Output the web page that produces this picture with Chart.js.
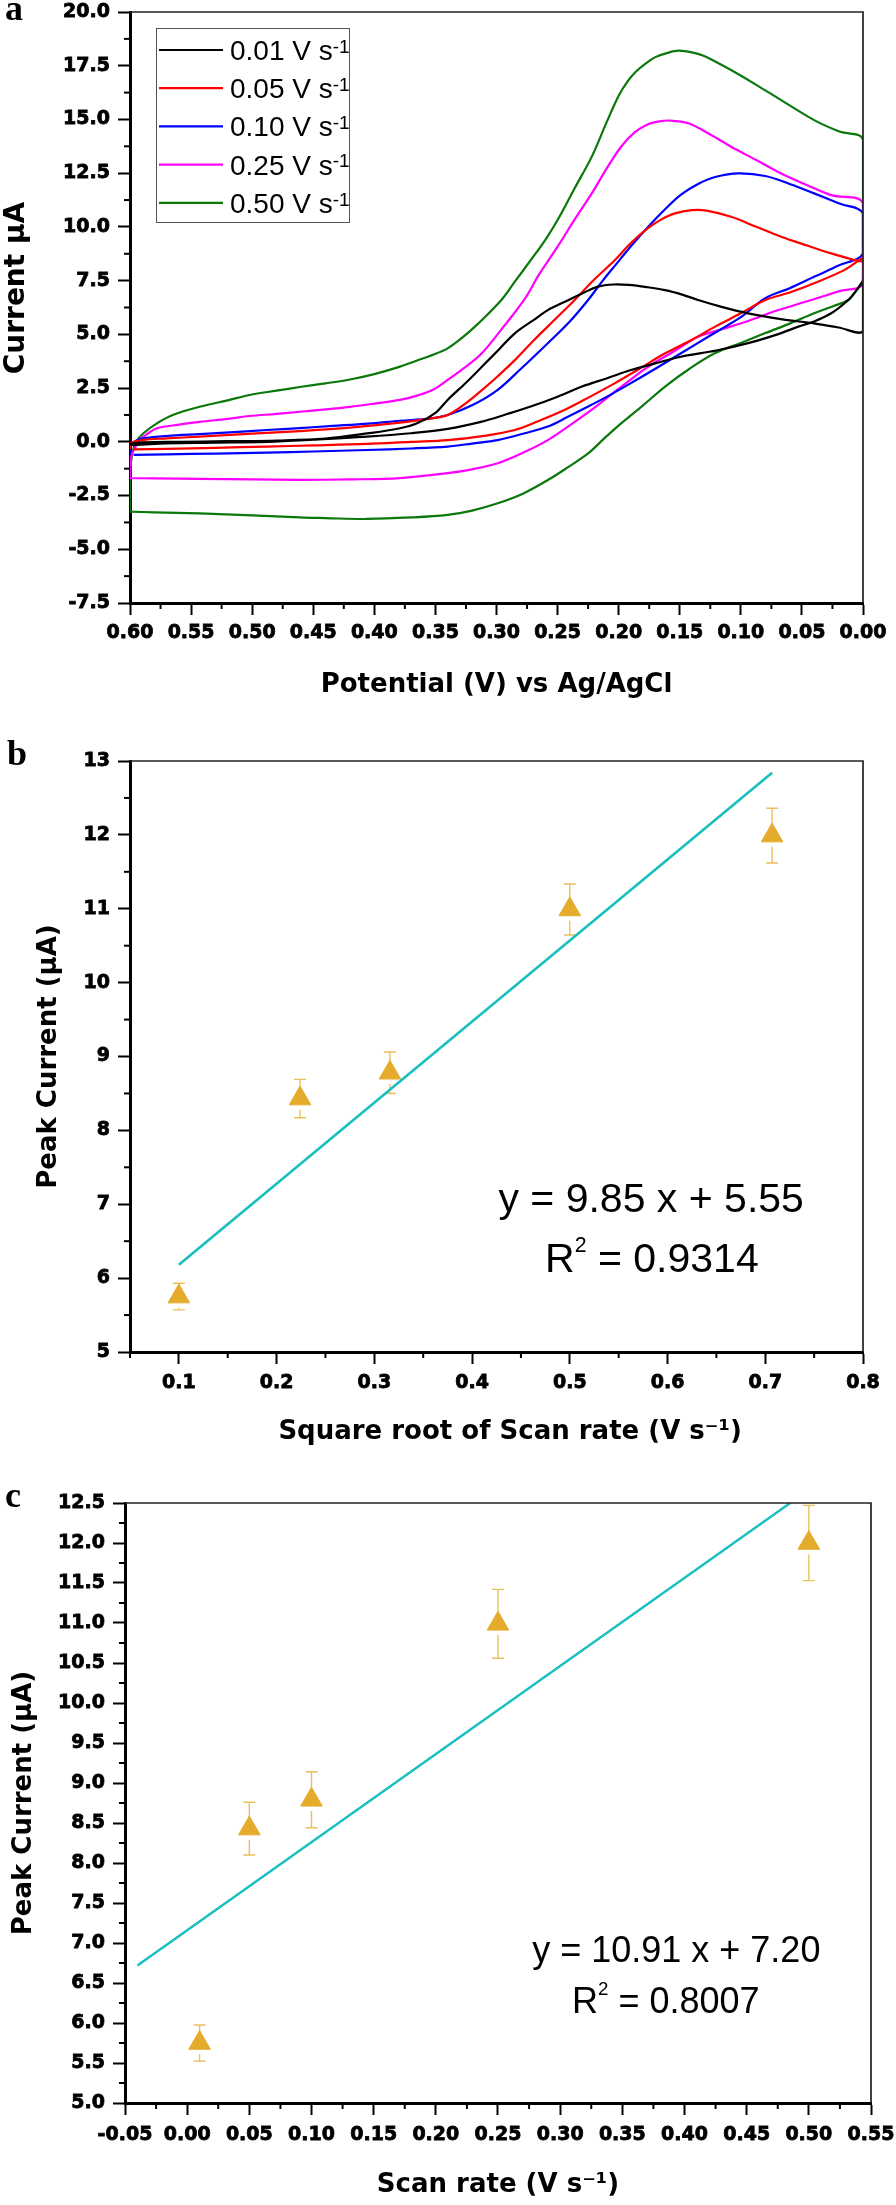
<!DOCTYPE html>
<html>
<head>
<meta charset="utf-8">
<title>CV scans and peak current vs scan rate</title>
<script src="https://cdn.jsdelivr.net/npm/chart.js@4.4.1/dist/chart.umd.min.js"></script>
<style>
  html, body { margin: 0; padding: 0; background: #fff; }
  body { position: relative; width: 896px; height: 2205px; overflow: hidden; }
  canvas { position: absolute; left: 0; }
</style>
</head>
<body>
<canvas id="cvChart" width="896" height="720" style="top:0"></canvas>
<canvas id="sqrtChart" width="896" height="740" style="top:720px"></canvas>
<canvas id="rateChart" width="896" height="745" style="top:1460px"></canvas>
<script>
/* ---- (a) cyclic voltammograms, one closed loop per scan rate ---- */
const scanRates = ['0.01', '0.05', '0.10', '0.25', '0.50'];
const cvColors = ['#000000', '#ff0000', '#0000ff', '#ff00ff', '#0b780b'];

const cv001Pot = [0.600, 0.590, 0.560, 0.520, 0.480, 0.440, 0.406, 0.380, 0.365, 0.350, 0.340, 0.325, 0.312, 0.298, 0.285, 0.270, 0.258, 0.244, 0.230, 0.217, 0.204, 0.192, 0.177, 0.162, 0.148, 0.135, 0.115, 0.094, 0.066, 0.040, 0.020, 0.000,
                  0.000, 0.006, 0.012, 0.026, 0.040, 0.053, 0.070, 0.094, 0.120, 0.149, 0.170, 0.190, 0.210, 0.230, 0.250, 0.272, 0.292, 0.312, 0.340, 0.370, 0.406, 0.450, 0.488, 0.530, 0.570, 0.597, 0.600];
const cv001Cur = [-0.10, -0.03, 0.00, 0.03, 0.06, 0.15, 0.39, 0.62, 0.86, 1.35, 1.95, 2.75, 3.49, 4.30, 5.05, 5.65, 6.13, 6.52, 6.90, 7.22, 7.32, 7.30, 7.20, 7.06, 6.85, 6.60, 6.27, 5.98, 5.70, 5.51, 5.32, 5.16,
                  7.40, 7.00, 6.60, 5.98, 5.60, 5.36, 5.00, 4.59, 4.25, 3.96, 3.65, 3.34, 2.95, 2.57, 2.10, 1.64, 1.28, 0.94, 0.60, 0.40, 0.24, 0.10, 0.00, -0.04, -0.07, -0.15, -0.12];

const cv005Pot = [0.600, 0.600, 0.590, 0.570, 0.543, 0.500, 0.461, 0.420, 0.379, 0.355, 0.340, 0.325, 0.310, 0.299, 0.285, 0.269, 0.252, 0.236, 0.220, 0.203, 0.190, 0.176, 0.165, 0.154, 0.140, 0.128, 0.108, 0.088, 0.067, 0.045, 0.026, 0.000,
                  0.000, 0.015, 0.040, 0.060, 0.080, 0.100, 0.121, 0.140, 0.162, 0.183, 0.203, 0.224, 0.244, 0.265, 0.285, 0.310, 0.340, 0.370, 0.406, 0.450, 0.488, 0.530, 0.570, 0.597];
const cv005Cur = [-0.35, -0.07, 0.08, 0.16, 0.24, 0.38, 0.50, 0.66, 0.89, 1.08, 1.25, 1.80, 2.50, 3.05, 3.80, 4.75, 5.70, 6.60, 7.55, 8.46, 9.25, 9.94, 10.35, 10.63, 10.78, 10.76, 10.47, 10.02, 9.54, 9.12, 8.77, 8.38,
                  8.55, 8.00, 7.38, 6.95, 6.60, 5.98, 5.36, 4.75, 4.12, 3.40, 2.73, 2.08, 1.49, 0.98, 0.55, 0.28, 0.08, 0.00, -0.10, -0.17, -0.22, -0.28, -0.33, -0.35];

const cv010Pot = [0.600, 0.600, 0.595, 0.589, 0.570, 0.543, 0.515, 0.488, 0.461, 0.434, 0.405, 0.379, 0.355, 0.340, 0.320, 0.299, 0.280, 0.258, 0.240, 0.225, 0.213, 0.203, 0.190, 0.176, 0.162, 0.149, 0.135, 0.121, 0.102, 0.080, 0.060, 0.040, 0.020, 0.000,
                  0.000, 0.020, 0.040, 0.060, 0.080, 0.100, 0.125, 0.149, 0.170, 0.190, 0.208, 0.225, 0.242, 0.258, 0.280, 0.299, 0.320, 0.340, 0.370, 0.406, 0.450, 0.488, 0.530, 0.570, 0.597];
const cv010Cur = [-0.61, -0.23, 0.05, 0.16, 0.27, 0.36, 0.45, 0.55, 0.64, 0.74, 0.85, 0.98, 1.08, 1.25, 1.70, 2.42, 3.40, 4.59, 5.60, 6.60, 7.50, 8.20, 9.10, 10.00, 10.82, 11.50, 12.00, 12.32, 12.49, 12.37, 12.00, 11.56, 11.10, 10.63,
                  8.77, 8.20, 7.68, 7.15, 6.68, 5.80, 4.95, 4.12, 3.40, 2.73, 2.15, 1.64, 1.15, 0.71, 0.35, 0.08, -0.08, -0.22, -0.31, -0.38, -0.45, -0.50, -0.55, -0.58, -0.61];

const cv025Pot = [0.600, 0.599, 0.592, 0.585, 0.578, 0.560, 0.543, 0.520, 0.502, 0.480, 0.461, 0.440, 0.420, 0.400, 0.379, 0.365, 0.352, 0.340, 0.325, 0.312, 0.295, 0.277, 0.265, 0.250, 0.236, 0.222, 0.210, 0.198, 0.187, 0.176, 0.168, 0.158, 0.143, 0.125, 0.108, 0.087, 0.067, 0.046, 0.026, 0.000,
                  0.000, 0.020, 0.045, 0.070, 0.094, 0.115, 0.135, 0.155, 0.176, 0.197, 0.217, 0.238, 0.258, 0.278, 0.299, 0.320, 0.340, 0.379, 0.420, 0.461, 0.500, 0.543, 0.580, 0.600];
const cv025Cur = [-1.69, -0.69, 0.08, 0.40, 0.63, 0.80, 0.93, 1.07, 1.20, 1.30, 1.40, 1.51, 1.63, 1.78, 1.95, 2.15, 2.42, 2.88, 3.50, 4.12, 5.30, 6.64, 7.80, 9.08, 10.35, 11.56, 12.70, 13.73, 14.40, 14.78, 14.90, 14.95, 14.82, 14.30, 13.73, 13.10, 12.49, 11.95, 11.48, 11.10,
                  7.38, 7.00, 6.55, 6.12, 5.62, 5.25, 4.89, 4.20, 3.49, 2.60, 1.71, 0.85, 0.08, -0.50, -1.00, -1.28, -1.46, -1.69, -1.75, -1.77, -1.75, -1.72, -1.70, -1.69];

const cv050Pot = [0.600, 0.600, 0.598, 0.595, 0.589, 0.578, 0.565, 0.543, 0.520, 0.502, 0.480, 0.461, 0.440, 0.420, 0.400, 0.379, 0.365, 0.352, 0.340, 0.328, 0.315, 0.296, 0.285, 0.272, 0.260, 0.250, 0.236, 0.222, 0.210, 0.200, 0.193, 0.186, 0.178, 0.170, 0.160, 0.151, 0.140, 0.130, 0.121, 0.108, 0.087, 0.067, 0.040, 0.020, 0.000,
                  0.000, 0.006, 0.012, 0.025, 0.040, 0.060, 0.080, 0.100, 0.121, 0.142, 0.162, 0.180, 0.198, 0.212, 0.225, 0.242, 0.258, 0.278, 0.299, 0.320, 0.340, 0.370, 0.406, 0.440, 0.461, 0.500, 0.543, 0.580, 0.600];
const cv050Cur = [-3.25, -1.50, -0.50, 0.00, 0.40, 0.86, 1.25, 1.63, 1.93, 2.18, 2.38, 2.55, 2.72, 2.90, 3.15, 3.50, 3.78, 4.05, 4.35, 4.85, 5.50, 6.60, 7.45, 8.45, 9.40, 10.32, 11.80, 13.27, 14.85, 16.10, 16.75, 17.22, 17.60, 17.90, 18.10, 18.20, 18.12, 17.95, 17.70, 17.30, 16.60, 15.90, 14.97, 14.45, 14.04,
                  7.60, 7.00, 6.60, 6.30, 5.98, 5.50, 5.06, 4.60, 4.13, 3.40, 2.57, 1.70, 0.86, 0.15, -0.54, -1.20, -1.78, -2.40, -2.86, -3.20, -3.40, -3.52, -3.59, -3.55, -3.52, -3.42, -3.33, -3.28, -3.25];

const cvXTicks = [0.00, 0.05, 0.10, 0.15, 0.20, 0.25, 0.30, 0.35, 0.40, 0.45, 0.50, 0.55, 0.60];
const cvYTicks = [-7.5, -5.0, -2.5, 0.0, 2.5, 5.0, 7.5, 10.0, 12.5, 15.0, 17.5, 20.0];

/* ---- (b) peak current vs square root of scan rate ---- */
const sqrtRate = [0.100, 0.224, 0.316, 0.500, 0.707];
const sqrtPeak = [5.75, 8.43, 8.78, 10.99, 11.99];
const sqrtErr = [0.18, 0.26, 0.28, 0.345, 0.37];
const sqrtFitX = [0.100, 0.707];
const sqrtFitY = [6.18, 12.84];
const sqrtXTicks = [0.1, 0.2, 0.3, 0.4, 0.5, 0.6, 0.7, 0.8];
const sqrtYTicks = [5, 6, 7, 8, 9, 10, 11, 12, 13];

/* ---- (c) peak current vs scan rate ---- */
const rate = [0.01, 0.05, 0.10, 0.25, 0.50];
const ratePeak = [5.75, 8.43, 8.79, 10.99, 12.00];
const rateErr = [0.225, 0.33, 0.35, 0.43, 0.47];
const rateFitX = [-0.040, 0.485];
const rateFitY = [6.72, 12.50];
const rateXTicks = [-0.05, 0.00, 0.05, 0.10, 0.15, 0.20, 0.25, 0.30, 0.35, 0.40, 0.45, 0.50, 0.55];
const rateYTicks = [5.0, 5.5, 6.0, 6.5, 7.0, 7.5, 8.0, 8.5, 9.0, 9.5, 10.0, 10.5, 11.0, 11.5, 12.0, 12.5];

const BOLD = "'DejaVu Sans', 'Verdana', sans-serif";
const SANS = "'Liberation Sans', Arial, sans-serif";
const pairs = (xs, ys) => xs.map((x, k) => ({ x, y: ys[k] }));

/* ---- text with superscript pieces: parts = [[text, isSup], ...] ---- */
function drawRich(ctx, parts, x, y, size, align, supScale, raise) {
    const widths = parts.map(([t, sup]) => {
        ctx.font = `${sup ? size * supScale : size}px ${SANS}`;
        return ctx.measureText(t).width;
    });
    const total = widths.reduce((a, b) => a + b, 0);
    let cx = align === 'center' ? x - total / 2 : x;
    ctx.textAlign = 'left';
    ctx.textBaseline = 'alphabetic';
    parts.forEach(([t, sup], i) => {
        ctx.font = `${sup ? size * supScale : size}px ${SANS}`;
        ctx.fillText(t, cx, sup ? y - size * raise : y);
        cx += widths[i];
    });
}

/* ---- frame (top/right), minor ticks, panel letter ---- */
const framePlugin = {
    id: 'frame',
    afterDraw(chart, args, opts) {
        const { ctx, chartArea: a } = chart;
        ctx.save();
        ctx.strokeStyle = '#222';
        ctx.lineWidth = 1.7;
        ctx.beginPath();
        ctx.moveTo(a.left, a.top);
        ctx.lineTo(a.right, a.top);
        ctx.lineTo(a.right, a.bottom);
        ctx.stroke();

        ctx.strokeStyle = '#000';
        ctx.lineWidth = 2;
        Object.entries(opts.minor || {}).forEach(([id, step]) => {
            const s = chart.scales[id];
            const k0 = Math.ceil(s.min / step - 1e-6), k1 = Math.floor(s.max / step + 1e-6);
            for (let k = k0; k <= k1; k++) {
                if (Math.abs(k % 2) !== 1) continue;
                const p = s.getPixelForValue(k * step);
                ctx.beginPath();
                if (s.isHorizontal()) { ctx.moveTo(p, a.bottom); ctx.lineTo(p, a.bottom + 6); }
                else { ctx.moveTo(a.left - 6, p); ctx.lineTo(a.left, p); }
                ctx.stroke();
            }
        });

        if (opts.letter) {
            ctx.fillStyle = '#000';
            ctx.font = "bold 36px 'Liberation Serif', 'Times New Roman', serif";
            ctx.textAlign = 'left';
            ctx.textBaseline = 'alphabetic';
            ctx.fillText(opts.letter.text, opts.letter.x, opts.letter.y);
        }
        ctx.restore();
    }
};

/* ---- error bars: whisker up to the cap, gap under the triangle ---- */
const errorBarPlugin = {
    id: 'errorBars',
    beforeDatasetsDraw(chart) {
        const { ctx } = chart;
        const ys = chart.scales.y;
        chart.data.datasets.forEach((ds, i) => {
            if (!ds.errors) return;
            const meta = chart.getDatasetMeta(i);
            ctx.save();
            ctx.strokeStyle = '#ebbf5e';
            ctx.lineWidth = 1.4;
            meta.data.forEach((pt, k) => {
                const v = ds.data[k].y, e = ds.errors[k];
                const top = ys.getPixelForValue(v + e), bot = ys.getPixelForValue(v - e);
                const gap = pt.y + ds.pointRadius * 0.5 + 5;
                ctx.beginPath();
                ctx.moveTo(pt.x, top); ctx.lineTo(pt.x, pt.y);
                ctx.moveTo(pt.x - 6, top); ctx.lineTo(pt.x + 6, top);
                if (bot > gap) { ctx.moveTo(pt.x, gap); ctx.lineTo(pt.x, bot); }
                ctx.moveTo(pt.x - 6, bot); ctx.lineTo(pt.x + 6, bot);
                ctx.stroke();
            });
            ctx.restore();
        });
    }
};

/* ---- regression text inside the plot ---- */
const equationPlugin = {
    id: 'equations',
    afterDatasetsDraw(chart, args, opts) {
        const { ctx, chartArea: a } = chart;
        ctx.save();
        ctx.fillStyle = '#000';
        (opts.lines || []).forEach(l => {
            drawRich(ctx, l.parts, a.left + l.fx * a.width, a.top + l.fy * a.height, l.size, 'center', 0.52, 0.49);
        });
        ctx.restore();
    }
};

/* ---- legend box of panel a ---- */
const cvLegendPlugin = {
    id: 'cvLegend',
    afterDraw(chart) {
        const { ctx, chartArea: a } = chart;
        const bx = a.left + 26, by = a.top + 16;
        ctx.save();
        ctx.strokeStyle = '#555';
        ctx.lineWidth = 1;
        ctx.strokeRect(bx + 0.5, by + 0.5, 193, 194);
        chart.data.datasets.forEach((ds, i) => {
            const cy = by + 22 + i * 38.2;
            ctx.strokeStyle = ds.borderColor;
            ctx.lineWidth = 2.2;
            ctx.beginPath();
            ctx.moveTo(bx + 3, cy);
            ctx.lineTo(bx + 67, cy);
            ctx.stroke();
            ctx.fillStyle = '#000';
            drawRich(ctx, [[ds.label.replace('⁻¹', ''), false], ['-1', true]], bx + 74, cy + 10, 28, 'left', 0.68, 0.26);
        });
        ctx.restore();
    }
};

/* ---- common axis builder ---- */
function buildAxis(o) {
    return {
        type: 'linear',
        min: o.min,
        max: o.max,
        reverse: !!o.reverse,
        afterBuildTicks: s => { s.ticks = o.ticks.map(v => ({ value: v })); },
        afterFit: s => {
            if (s.isHorizontal()) s.height = o.size; else s.width = o.size;
            s.paddingLeft = s.paddingRight = s.paddingTop = s.paddingBottom = 0;
        },
        border: { display: true, width: 3, color: '#000' },
        grid: { drawOnChartArea: false, drawTicks: true, tickLength: 12, tickWidth: 2, tickColor: '#000' },
        ticks: {
            autoSkip: false, maxRotation: 0, minRotation: 0,
            padding: o.tickPad, color: '#000',
            textStrokeColor: '#000', textStrokeWidth: 0.8,
            font: { family: BOLD, weight: 'bold', size: 19 },
            callback: v => Number(v).toFixed(o.digits)
        },
        title: {
            display: true, text: o.title, color: '#000',
            font: { family: BOLD, weight: 'bold', size: o.titleSize || 26 },
            padding: o.titlePad
        }
    };
}

function baseOptions(padding, scales, plugins) {
    return {
        responsive: false,
        animation: false,
        devicePixelRatio: 1,
        layout: { padding },
        scales,
        plugins: Object.assign({ legend: { display: false }, tooltip: { enabled: false } }, plugins)
    };
}

/* ---- a ---- */
const cvPot = [cv001Pot, cv005Pot, cv010Pot, cv025Pot, cv050Pot];
const cvCur = [cv001Cur, cv005Cur, cv010Cur, cv025Cur, cv050Cur];

new Chart(document.getElementById('cvChart'), {
    type: 'scatter',
    data: {
        datasets: scanRates.map((r, i) => ({
            label: `${r} V s⁻¹`,
            data: pairs(cvPot[i], cvCur[i]),
            showLine: true,
            borderColor: cvColors[i],
            borderWidth: 2.2,
            pointRadius: 0,
            tension: 0.35,
            fill: false
        }))
    },
    options: baseOptions(
        { left: 0, top: 12, right: 33, bottom: 0 },
        {
            x: buildAxis({ min: 0, max: 0.6, reverse: true, ticks: cvXTicks, digits: 2, size: 117, tickPad: 7,
                           title: 'Potential (V) vs Ag/AgCl', titlePad: { top: 0, bottom: 19 } }),
            // leading spaces lift the rotated label a little above the axis centre, as in the original
            y: buildAxis({ min: -7.5, max: 20, ticks: cvYTicks, digits: 1, size: 130, tickPad: 8,
                           title: '    Current μA', titleSize: 28, titlePad: { top: 0, bottom: 0 } })
        },
        { frame: { minor: { x: 0.025, y: 1.25 }, letter: { text: 'a', x: 5, y: 20 } } }
    ),
    plugins: [framePlugin, cvLegendPlugin]
});

/* ---- b ---- */
new Chart(document.getElementById('sqrtChart'), {
    type: 'scatter',
    data: {
        datasets: [
            { label: 'Linear fit', data: pairs(sqrtFitX, sqrtFitY), showLine: true,
              borderColor: '#17bfc0', borderWidth: 2.6, pointRadius: 0 },
            { label: 'Peak current', data: pairs(sqrtRate, sqrtPeak), errors: sqrtErr,
              pointStyle: 'triangle', pointRadius: 12.5, backgroundColor: '#e5ab2b', borderColor: '#e5ab2b', borderWidth: 1 }
        ]
    },
    options: baseOptions(
        { left: 0, top: 41, right: 33, bottom: 0 },
        {
            x: buildAxis({ min: 0.05, max: 0.8, ticks: sqrtXTicks, digits: 1, size: 108, tickPad: 8,
                           title: '   Square root of Scan rate (V s⁻¹)', titlePad: { top: 0, bottom: 12 } }),
            y: buildAxis({ min: 5, max: 13, ticks: sqrtYTicks, digits: 0, size: 130, tickPad: 8,
                           title: 'Peak Current (μA)', titlePad: { top: 34, bottom: 0 } })
        },
        {
            frame: { minor: { x: 0.05, y: 0.5 }, letter: { text: 'b', x: 7, y: 45 } },
            equations: { lines: [
                { parts: [['y = 9.85 x + 5.55', false]], fx: 0.711, fy: 0.763, size: 41 },
                { parts: [['R', false], ['2', true], [' = 0.9314', false]], fx: 0.712, fy: 0.864, size: 41 }
            ] }
        }
    ),
    plugins: [framePlugin, errorBarPlugin, equationPlugin]
});

/* ---- c ---- */
new Chart(document.getElementById('rateChart'), {
    type: 'scatter',
    data: {
        datasets: [
            { label: 'Linear fit', data: pairs(rateFitX, rateFitY), showLine: true,
              borderColor: '#17bfc0', borderWidth: 2.4, pointRadius: 0 },
            { label: 'Peak current', data: pairs(rate, ratePeak), errors: rateErr,
              pointStyle: 'triangle', pointRadius: 12.5, backgroundColor: '#e5ab2b', borderColor: '#e5ab2b', borderWidth: 1 }
        ]
    },
    options: baseOptions(
        { left: 0, top: 43, right: 25, bottom: 0 },
        {
            x: buildAxis({ min: -0.05, max: 0.55, ticks: rateXTicks, digits: 2, size: 102, tickPad: 9,
                           title: 'Scan rate (V s⁻¹)', titlePad: { top: 0, bottom: 4 } }),
            y: buildAxis({ min: 5, max: 12.5, ticks: rateYTicks, digits: 1, size: 125, tickPad: 8,
                           title: 'Peak Current (μA)', titlePad: { top: 9, bottom: 0 } })
        },
        {
            frame: { minor: { x: 0.025, y: 0.25 }, letter: { text: 'c', x: 5, y: 47 } },
            equations: { lines: [
                { parts: [['y = 10.91 x + 7.20', false]], fx: 0.739, fy: 0.765, size: 36 },
                { parts: [['R', false], ['2', true], [' = 0.8007', false]], fx: 0.725, fy: 0.850, size: 36 }
            ] }
        }
    ),
    plugins: [framePlugin, errorBarPlugin, equationPlugin]
});
</script>
</body>
</html>
